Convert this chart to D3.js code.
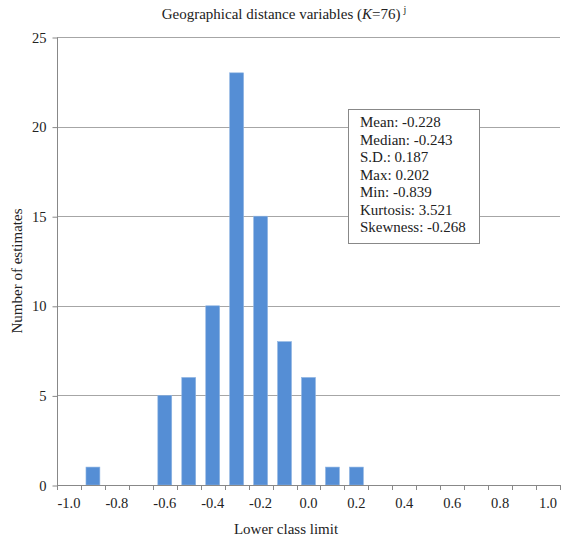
<!DOCTYPE html>
<html lang="en">
<head>
    <meta charset="utf8">
    <script type="text/javascript" src="https://d3js.org/d3.v7.min.js"></script>
    <title>Geographical distance variables</title>
    <style>
        body { margin: 0; background: #fff; }
        text { font-family: "Liberation Serif", "Times New Roman", serif; fill: #222; }
    </style>
</head>
<body>
    <div class="chart"></div>
</body>
<script type="text/javascript">
    // 数据
    var classes = ["-1.0","-0.9","-0.8","-0.7","-0.6","-0.5","-0.4","-0.3","-0.2","-0.1","0.0",
                   "0.1","0.2","0.3","0.4","0.5","0.6","0.7","0.8","0.9","1.0"];
    var counts = [0,1,0,0,5,6,10,23,15,8,6,1,1,0,0,0,0,0,0,0,0];
    var tickLabels = ["-1.0","-0.8","-0.6","-0.4","-0.2","0.0","0.2","0.4","0.6","0.8","1.0"];
    var yTicks = [0,5,10,15,20,25];
    var stats = ["Mean: -0.228","Median: -0.243","S.D.: 0.187","Max: 0.202","Min: -0.839","Kurtosis: 3.521","Skewness: -0.268"];

    var width = 565, height = 540;
    // 绘图区 (注意不能用 top 作变量名, 会和 window.top 冲突)
    var plotL = 57, plotR = 560, plotT = 37, plotB = 485;

    var svg = d3.select("div.chart")
        .append("svg")
        .attr("width", width)
        .attr("height", height);

    var x = d3.scaleBand()
        .domain(classes)
        .range([plotL, plotR])
        .paddingInner(0.42)
        .paddingOuter(0.21);
    var y = d3.scaleLinear()
        .domain([0, 25])
        .range([plotB, plotT]);

    // 网格线
    svg.append("g")
        .selectAll("line")
        .data(yTicks.slice(1))
        .enter()
        .append("line")
        .attr("x1", plotL).attr("x2", plotR)
        .attr("y1", d => Math.round(y(d)) + 0.5).attr("y2", d => Math.round(y(d)) + 0.5)
        .attr("stroke", "#a6a6a6")
        .attr("stroke-width", 1);

    // 柱子
    svg.append("g")
        .selectAll("rect")
        .data(counts)
        .enter()
        .append("rect")
        .attr("x", (d, i) => x(classes[i]))
        .attr("y", d => y(d))
        .attr("width", x.bandwidth())
        .attr("height", d => plotB - y(d))
        .attr("fill", "#558ed5")
        .attr("stroke", "#8db3e2")
        .attr("stroke-width", 0.6);

    // Y轴
    var yAxis = d3.axisLeft(y).tickValues(yTicks).tickSize(5).tickPadding(6);
    var gy = svg.append("g")
        .attr("transform", "translate(" + (plotL + 0.5) + ",0.5)")
        .call(yAxis);
    gy.select(".domain").attr("stroke", "#888").attr("d", "M0," + plotT + "V" + plotB);
    gy.selectAll(".tick line").attr("stroke", "#888");
    gy.selectAll("text")
        .style("font-size", "14.5px")
        .style("font-family", "Liberation Serif, serif")
        .attr("fill", "#222");

    // X轴: 刻度在类别边界上
    var gx = svg.append("g");
    gx.append("line")
        .attr("x1", plotL).attr("x2", plotR)
        .attr("y1", plotB + 0.5).attr("y2", plotB + 0.5)
        .attr("stroke", "#888");
    gx.selectAll("line.tick")
        .data(d3.range(classes.length + 1))
        .enter()
        .append("line")
        .attr("class", "tick")
        .attr("x1", i => Math.round(plotL + (plotR - plotL) * i / classes.length) + 0.5)
        .attr("x2", i => Math.round(plotL + (plotR - plotL) * i / classes.length) + 0.5)
        .attr("y1", plotB)
        .attr("y2", plotB + 5)
        .attr("stroke", "#888");
    gx.selectAll("text")
        .data(tickLabels)
        .enter()
        .append("text")
        .attr("x", d => x(d) + x.bandwidth() / 2)
        .attr("y", 508)
        .attr("text-anchor", "middle")
        .style("font-size", "14.5px")
        .text(d => d);

    // 标题
    var title = svg.append("text")
        .attr("x", 284)
        .attr("y", 19)
        .attr("text-anchor", "middle")
        .style("font-size", "15px");
    title.append("tspan").text("Geographical distance variables (");
    title.append("tspan").style("font-style", "italic").text("K");
    title.append("tspan").text("=76)");
    title.append("tspan").attr("dy", -6).attr("dx", 3).style("font-size", "10px").text("j");

    // 轴标题
    svg.append("text")
        .attr("x", 286)
        .attr("y", 534)
        .attr("text-anchor", "middle")
        .style("font-size", "15px")
        .text("Lower class limit");
    svg.append("text")
        .attr("transform", "translate(22,271) rotate(-90)")
        .attr("text-anchor", "middle")
        .style("font-size", "15px")
        .text("Number of estimates");

    // 统计框
    svg.append("rect")
        .attr("x", 348.5).attr("y", 109.5)
        .attr("width", 131).attr("height", 134)
        .attr("fill", "#fff")
        .attr("stroke", "#888");
    svg.append("g")
        .selectAll("text")
        .data(stats)
        .enter()
        .append("text")
        .attr("x", 360)
        .attr("y", (d, i) => 127 + i * 17.5)
        .style("font-size", "15px")
        .text(d => d);
</script>
</html>
